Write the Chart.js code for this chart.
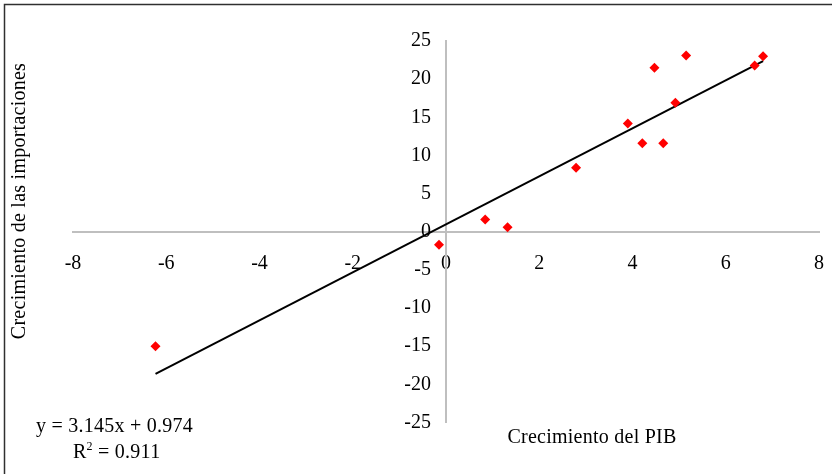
<!DOCTYPE html>
<html>
<head>
<meta charset="utf-8">
<script src="https://cdn.jsdelivr.net/npm/chart.js@4.4.1/dist/chart.umd.min.js"></script>
<style>
  html, body { margin: 0; padding: 0; background: #fff; }
  #wrap { width: 832px; height: 474px; }
</style>
</head>
<body>
<div id="wrap"><canvas id="chart" width="832" height="474"></canvas></div>
<script>
// scatter of PIB growth vs import growth, with linear trend

var pibGrowth = [-6.23, -0.15, 0.84, 1.32, 2.79, 3.90, 4.21, 4.47, 4.66, 4.92, 5.15, 6.62, 6.80];
var importGrowth = [-15.0, -1.7, 1.6, 0.6, 8.4, 14.2, 11.6, 21.5, 11.6, 16.9, 23.1, 21.8, 23.0];

var trendSlope = 3.145;
var trendIntercept = 0.974;
var trendLabel = "y = 3.145x + 0.974";
var r2Label = "0.911";

var xTitle = "Crecimiento del PIB";
var yTitle = "Crecimiento de las importaciones";

var points = pibGrowth.map(function (x, i) { return { x: x, y: importGrowth[i] }; });
var xMin = Math.min.apply(null, pibGrowth);
var xMax = Math.max.apply(null, pibGrowth);
var trend = [xMin, xMax].map(function (x) { return { x: x, y: trendSlope * x + trendIntercept }; });

var FONT = "'Liberation Serif', 'Times New Roman', serif";

var extras = {
  id: "extras",
  beforeDraw: function (chart) {
    var ctx = chart.ctx;
    ctx.save();
    ctx.strokeStyle = "#303030";
    ctx.lineWidth = 1.5;
    ctx.beginPath();
    ctx.moveTo(4.5, 474);
    ctx.lineTo(4.5, 4.5);
    ctx.lineTo(832, 4.5);
    ctx.stroke();
    ctx.restore();
  },
  afterDraw: function (chart) {
    var ctx = chart.ctx;
    ctx.save();
    ctx.fillStyle = "#000";
    ctx.letterSpacing = "0.25px";
    ctx.font = "20px " + FONT;
    ctx.textBaseline = "middle";
    ctx.textAlign = "center";
    ctx.fillText(xTitle, 592, 438);
    ctx.textAlign = "left";
    ctx.fillText(trendLabel, 36, 427);
    // R² line
    ctx.fillText("R", 73, 453);
    var rw = ctx.measureText("R").width;
    ctx.font = "12px " + FONT;
    ctx.fillText("2", 73 + rw, 447);
    var sw = ctx.measureText("2").width;
    ctx.font = "20px " + FONT;
    ctx.fillText(" = " + r2Label, 73 + rw + sw, 453);
    ctx.translate(20, 201);
    ctx.rotate(-Math.PI / 2);
    ctx.textAlign = "center";
    ctx.fillText(yTitle, 0, 0);
    ctx.restore();
  }
};

Chart.defaults.font.family = FONT;
Chart.defaults.font.size = 20;
Chart.defaults.color = "#000";

new Chart(document.getElementById("chart"), {
  type: "scatter",
  data: {
    datasets: [
      {
        label: "datos",
        data: points,
        pointStyle: "rectRot",
        pointRadius: 5,
        pointBackgroundColor: "#ff0000",
        pointBorderColor: "#ff0000",
        pointBorderWidth: 0,
        order: 1
      },
      {
        type: "line",
        label: "tendencia",
        data: trend,
        borderColor: "#000",
        borderWidth: 2,
        pointRadius: 0,
        fill: false,
        order: 2
      }
    ]
  },
  options: {
    responsive: false,
    animation: false,
    layout: { padding: { left: 73, right: 13, top: 41, bottom: 51.5 } },
    plugins: { legend: { display: false }, tooltip: { enabled: false } },
    scales: {
      x: {
        type: "linear",
        position: { y: 0 },
        min: -8, max: 8,
        ticks: { stepSize: 2, padding: 20 },
        grid: { display: false, drawTicks: false, tickLength: 0 },
        border: { display: true, color: "#bfbfbf", width: 2 },
        // tick padding would otherwise widen the right margin
        afterFit: function (s) { s.paddingLeft = 0; s.paddingRight = 0; }
      },
      y: {
        type: "linear",
        position: { x: 0 },
        min: -25, max: 25,
        ticks: {
          stepSize: 5,
          // labels of a centred axis sit flush on the line; pad with spaces
          callback: function (v) { return v + "   "; }
        },
        grid: { display: false, drawTicks: false, tickLength: 0 },
        border: { display: true, color: "#bfbfbf", width: 2 }
      }
    }
  },
  plugins: [extras]
});
</script>
</body>
</html>
